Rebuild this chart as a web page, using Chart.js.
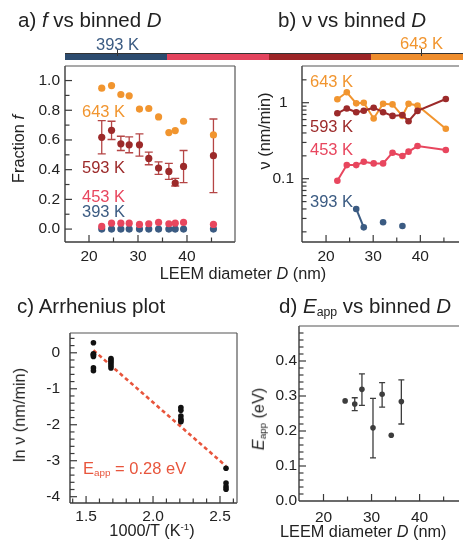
<!DOCTYPE html>
<html>
<head>
<meta charset="utf-8">
<script src="https://cdn.jsdelivr.net/npm/chart.js@4.4.1/dist/chart.umd.min.js"></script>
<style>
  body{margin:0;background:#fff}
  #wrap{position:relative;width:463px;height:542px;overflow:hidden;font-family:"Liberation Sans",Arial,sans-serif;color:#222}
  canvas{position:absolute;left:0;top:0}
  .t{position:absolute;white-space:nowrap;line-height:1}
  .ttl{font-size:20.5px}
  .lab{font-size:16.5px}
  .ax{font-size:16.3px}
  .rot{transform:translate(-50%,-50%) rotate(-90deg)}
  .seg{position:absolute;top:53px;height:7px;border-top:1px solid #333;box-sizing:border-box}
  .tk{position:absolute;top:49px;width:1px;height:7px;background:#333}
  sub{font-size:60%;vertical-align:-0.25em;line-height:0}
  sup{font-size:60%;vertical-align:0.6em;line-height:0}
</style>
</head>
<body>
<div id="wrap">
  <canvas id="cA" width="463" height="542"></canvas>
  <canvas id="cB" width="463" height="542"></canvas>
  <canvas id="cC" width="463" height="542"></canvas>
  <canvas id="cD" width="463" height="542"></canvas>

  <!-- panel titles -->
  <div class="t ttl" style="left:18px;top:10px">a) <i>f</i> vs binned <i>D</i></div>
  <div class="t ttl" style="left:278px;top:10px">b) ν vs binned <i>D</i></div>
  <div class="t ttl" style="left:17px;top:296px">c) Arrhenius plot</div>
  <div class="t ttl" style="left:279px;top:296px">d) <i>E</i><sub>app</sub> vs binned <i>D</i></div>

  <!-- temperature colour bar -->
  <div class="seg" style="left:65px;width:102px;background:#2c4b6e"></div>
  <div class="seg" style="left:167px;width:102px;background:#e3435d"></div>
  <div class="seg" style="left:269px;width:102px;background:#9c2527"></div>
  <div class="seg" style="left:371px;width:92px;background:#ee8d2d"></div>
  <div class="tk" style="left:117px"></div>
  <div class="tk" style="left:421px"></div>
  <div class="t lab" style="left:96px;top:36px;color:#3b5b82">393 K</div>
  <div class="t lab" style="left:400px;top:35px;color:#f1952f">643 K</div>

  <!-- series labels a -->
  <div class="t lab" style="left:82px;top:103px;color:#f1952f">643 K</div>
  <div class="t lab" style="left:82px;top:159px;color:#9c2a2a">593 K</div>
  <div class="t lab" style="left:82px;top:188px;color:#e8465e">453 K</div>
  <div class="t lab" style="left:82px;top:203px;color:#3b5b82">393 K</div>
  <!-- series labels b -->
  <div class="t lab" style="left:310px;top:73px;color:#f1952f">643 K</div>
  <div class="t lab" style="left:310px;top:118px;color:#9c2a2a">593 K</div>
  <div class="t lab" style="left:310px;top:141px;color:#e8465e">453 K</div>
  <div class="t lab" style="left:310px;top:193px;color:#3b5b82">393 K</div>
  <!-- fit label c -->
  <div class="t lab" style="left:83px;top:460px;color:#e8553c">E<sub>app</sub> = 0.28 eV</div>

  <!-- axis titles -->
  <div class="t ax" style="left:243px;top:265px;transform:translateX(-50%)">LEEM diameter <i>D</i> (nm)</div>
  <div class="t ax rot" style="left:18px;top:149px">Fraction <i>f</i></div>
  <div class="t ax rot" style="left:264px;top:131px">ν (nm/min)</div>
  <div class="t ax rot" style="left:19px;top:415px">ln ν (nm/min)</div>
  <div class="t ax" style="left:152px;top:522px;transform:translateX(-50%)">1000/T (K<sup>-1</sup>)</div>
  <div class="t ax rot" style="left:258px;top:419px"><i>E</i><sub>app</sub> (eV)</div>
  <div class="t ax" style="left:280px;top:523px">LEEM diameter <i>D</i> (nm)</div>
</div>

<script>
/* ---------- data: a) fraction f vs binned D ---------- */
const dA     = [22.6, 24.6, 26.5, 28.2, 30.3, 32.2, 34.2, 36.3, 37.6, 39.3, 45.4];
const f643   = [0.949, 0.966, 0.906, 0.897, 0.808, 0.812, 0.755, 0.650, 0.663, 0.726, 0.634];
const f593   = [0.618, 0.665, 0.574, 0.567, 0.567, 0.476, 0.411, 0.388, 0.310, 0.422, 0.494];
const f593Lo = [0.507, 0.603, 0.529, 0.514, 0.491, 0.433, 0.368, 0.335, 0.290, 0.313, 0.246];
const f593Hi = [0.730, 0.726, 0.625, 0.621, 0.641, 0.518, 0.453, 0.442, 0.342, 0.529, 0.741];
const f453   = [0.018, 0.040, 0.040, 0.040, 0.031, 0.036, 0.045, 0.036, 0.040, 0.045, 0.031];
const f393   = [0, 0, 0, 0, 0, 0, 0, 0, 0, 0, 0];

/* ---------- data: b) rate v vs binned D ---------- */
const dB   = [22.4, 24.4, 26.4, 28.0, 30.1, 32.1, 34.1, 36.2, 37.5, 39.4, 45.4];
const v643 = [1.11, 1.37, 0.98, 1.00, 0.62, 0.97, 0.95, 0.67, 0.97, 0.92, 0.455];
const v593 = [0.725, 0.84, 0.75, 0.785, 0.86, 0.75, 0.67, 0.69, 0.57, 0.78, 1.12];
const v453 = [0.094, 0.151, 0.151, 0.167, 0.159, 0.159, 0.22, 0.199, 0.227, 0.269, 0.239];
const v393 = [null, null, 0.040, 0.0229, null, 0.0267, null, 0.0239, null, null, null];

/* ---------- data: c) Arrhenius ---------- */
const invT    = [1.555, 1.686, 2.208, 2.545];   // 643, 593, 453, 393 K
const ln643   = [0.28, -0.03, -0.06, -0.10, -0.05, -0.42, -0.50];
const ln593   = [-0.16, -0.20, -0.25, -0.30, -0.36, -0.42];
const ln453   = [-1.52, -1.60, -1.76, -1.84, -1.88, -1.92];
const ln393   = [-3.21, -3.62, -3.72, -3.79];
const fitX    = [1.555, 2.545];
const fitY    = [0.07, -3.15];

/* ---------- data: d) E_app vs binned D ---------- */
const dE   = [24.5, 26.5, 28.0, 30.3, 32.2, 34.1, 36.2];
const eApp = [0.286, 0.277, 0.319, 0.209, 0.305, 0.188, 0.284];
const eLo  = [null, 0.258, 0.273, 0.123, 0.268, null, 0.220];
const eHi  = [null, 0.295, 0.363, 0.293, 0.338, null, 0.346];

/* ---------- colours ---------- */
const C393 = '#3b5b82', C453 = '#e8465e', C593 = '#9c2a2a', C643 = '#f1952f';

Chart.defaults.font.family = '"Liberation Sans", Arial, sans-serif';
Chart.defaults.font.size = 15.5;
Chart.defaults.color = '#222';
Chart.defaults.animation = false;

const W = 463, H = 542;
const steps = (a, b, s) => { const r = []; for (let v = a; v <= b + 1e-9; v += s) r.push(Math.round(v * 1e6) / 1e6); return r; };
const isMaj = (v, m) => m.some(x => Math.abs(x - v) < 1e-9);
const pts = (xs, ys) => xs.map((x, i) => ({x, y: ys[i]}));
const col = (x, ys) => ys.map(y => ({x, y}));

// scale with a fixed tick list; only majors are labelled
function scale(o){
  const horiz = o.pos === 'x';
  return {
    type: o.type || 'linear', min: o.min, max: o.max,
    afterBuildTicks: s => { s.ticks = o.vals.map(v => ({value: v, major: isMaj(v, o.majors)})); },
    afterFit: s => { if (horiz) s.height = o.size; else s.width = o.size; },
    grid: {display: false, drawTicks: false}, border: {display: false},
    ticks: {autoSkip: false, maxRotation: 0, padding: o.pad, crossAlign: o.cross || 'near',
      callback: (v, i, t) => t[i].major ? o.fmt(v) : ''}
  };
}

// inner tick marks + frame, drawn from the chart's own scales
const frame = {
  id: 'frame',
  afterDraw(chart, args, o){
    const {ctx, chartArea: a, scales: {x, y}} = chart;
    const ln = (x1, y1, x2, y2) => { ctx.beginPath(); ctx.moveTo(x1, y1); ctx.lineTo(x2, y2); ctx.stroke(); };
    ctx.save();
    ctx.strokeStyle = '#3a3a3a'; ctx.lineWidth = 1.2;
    x.ticks.forEach(t => { const p = x.getPixelForValue(t.value); if (p > a.left + 1 && p < a.right - 1) ln(p, a.bottom, p, a.bottom - (t.major ? 7 : 4.5)); });
    y.ticks.forEach(t => { const p = y.getPixelForValue(t.value); if (p > a.top + 1 && p < a.bottom - 1) ln(a.left, p, a.left + (t.major ? 7 : 4.5), p); });
    ctx.lineWidth = 1.4;
    ln(a.left, a.top, a.left, a.bottom);
    ln(a.left, a.bottom, a.right, a.bottom);
    ctx.strokeStyle = '#555'; ctx.lineWidth = 1.2;
    ln(a.left, a.top, a.right, a.top);
    if (o.right) ln(a.right, a.top, a.right, a.bottom);
    ctx.restore();
  }
};

// vertical error bars from dataset.errLo / errHi
const errBars = {
  id: 'errBars',
  beforeDatasetsDraw(chart){
    const {ctx, scales: {x, y}} = chart;
    chart.data.datasets.forEach(ds => {
      if (!ds.errLo) return;
      ctx.save();
      ctx.strokeStyle = ds.errColor; ctx.lineWidth = 1.3;
      ds.data.forEach((p, i) => {
        if (ds.errLo[i] == null) return;
        const px = x.getPixelForValue(p.x), y1 = y.getPixelForValue(ds.errLo[i]), y2 = y.getPixelForValue(ds.errHi[i]), c = ds.cap;
        ctx.beginPath();
        ctx.moveTo(px, y1); ctx.lineTo(px, y2);
        ctx.moveTo(px - c, y1); ctx.lineTo(px + c, y1);
        ctx.moveTo(px - c, y2); ctx.lineTo(px + c, y2);
        ctx.stroke();
      });
      ctx.restore();
    });
  }
};

// place chart area exactly: area = {l,t,r,b}, yW/xH = fixed axis sizes
function make(id, area, yW, xH, datasets, xs, ys, right){
  return new Chart(document.getElementById(id), {
    type: 'scatter',
    data: {datasets},
    options: {
      responsive: false,
      layout: {padding: {left: area.l - yW, top: area.t, right: W - area.r, bottom: H - area.b - xH}},
      plugins: {legend: {display: false}, tooltip: {enabled: false}, frame: {right}},
      scales: {x: scale(xs), y: scale(ys)}
    },
    plugins: [errBars, frame]
  });
}

const dot = (data, c, r) => ({data, backgroundColor: c, borderColor: c, pointRadius: r, borderWidth: 0});
const dline = (data, c, r) => ({data, showLine: true, spanGaps: false, backgroundColor: c, borderColor: c, borderWidth: 2, pointRadius: r, pointBorderWidth: 0});

const dTicks = [20, 25, 30, 35, 40, 45], dMaj = [20, 30, 40];

/* a) */
make('cA', {l: 65, t: 66, r: 235, b: 242}, 45, 25, [
  dot(pts(dA, f643), C643, 3.6),
  Object.assign(dot(pts(dA, f593), C593, 3.6), {errLo: f593Lo, errHi: f593Hi, errColor: '#b54545', cap: 4}),
  dot(pts(dA, f453), C453, 3.6),
  dot(pts(dA, f393), C393, 3.6)
], {pos: 'x', min: 15.1, max: 49.8, vals: dTicks, majors: dMaj, fmt: v => String(v), size: 25, pad: 5},
   {pos: 'y', min: -0.087, max: 1.098, vals: steps(0, 1.0, 0.1), majors: [0, 0.2, 0.4, 0.6, 0.8, 1.0], fmt: v => v.toFixed(1), size: 45, pad: 5}, true);

/* b) */
const logVals = [];
[-2, -1, 0].forEach(e => { for (let m = 1; m <= 9; m++) { const v = +(m * Math.pow(10, e)).toPrecision(3); if (v > 0.0147 && v < 3.04) logVals.push(v); } });
make('cB', {l: 302, t: 66, r: 463, b: 242}, 40, 25, [
  dline(pts(dB, v593), C593, 3.3),
  dline(pts(dB, v643), C643, 3.3),
  dline(pts(dB, v453), C453, 3.3),
  dline(pts(dB, v393), C393, 3.3)
], {pos: 'x', min: 14.9, max: 48.2, vals: dTicks, majors: dMaj, fmt: v => String(v), size: 25, pad: 5},
   {pos: 'y', type: 'logarithmic', min: 0.0147, max: 3.04, vals: logVals, majors: [0.1, 1], fmt: v => String(v), size: 40, pad: 8, cross: 'center'}, false);

/* c) */
make('cC', {l: 70, t: 333, r: 237, b: 503}, 40, 25, [
  dot(col(invT[0], ln643), '#111', 2.8),
  dot(col(invT[1], ln593), '#111', 2.8),
  dot(col(invT[2], ln453), '#111', 2.8),
  dot(col(invT[3], ln393), '#111', 2.8),
  {data: pts(fitX, fitY), showLine: true, borderColor: '#e8553c', borderWidth: 2.6, borderDash: [4, 3], pointRadius: 0}
], {pos: 'x', min: 1.38, max: 2.627, vals: steps(1.4, 2.6, 0.1), majors: [1.5, 2.0, 2.5], fmt: v => v.toFixed(1), size: 25, pad: 4},
   {pos: 'y', min: -4.175, max: 0.55, vals: steps(-4.0, 0.4, 0.2), majors: [-4, -3, -2, -1, 0], fmt: v => String(Math.round(v)), size: 40, pad: 10}, true);

/* d) */
make('cD', {l: 299, t: 326, r: 463, b: 501}, 40, 25, [
  Object.assign(dot(pts(dE, eApp), '#3d3d3d', 2.8), {errLo: eLo, errHi: eHi, errColor: '#3d3d3d', cap: 3})
], {pos: 'x', min: 14.9, max: 48.2, vals: dTicks, majors: dMaj, fmt: v => String(v), size: 25, pad: 7},
   {pos: 'y', min: 0, max: 0.5, vals: steps(0, 0.48, 0.02), majors: [0, 0.1, 0.2, 0.3, 0.4], fmt: v => v.toFixed(1), size: 40, pad: 2}, false);
</script>
</body>
</html>
